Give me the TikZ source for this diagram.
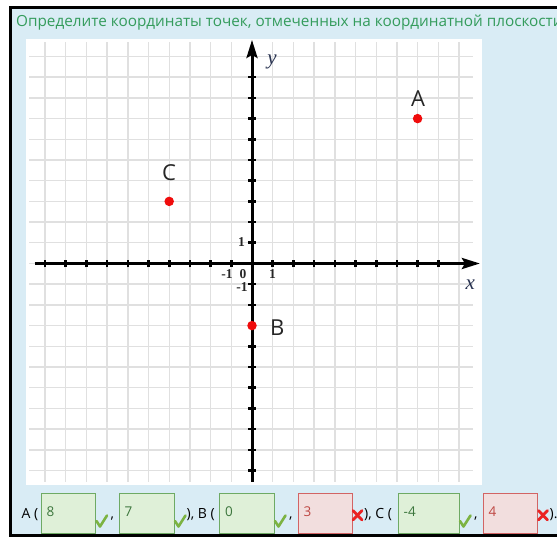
\documentclass[tikz,border=0pt]{standalone}
\usepackage{fontspec}
\setmainfont{Open Sans}
\newfontfamily\serifnum{Liberation Serif}
\usetikzlibrary{arrows.meta}
\definecolor{bgblue}{RGB}{217,236,245}
\definecolor{titlegreen}{RGB}{52,156,92}
\definecolor{gridgray}{RGB}{224,224,224}
\definecolor{ptred}{RGB}{240,12,12}
\definecolor{okfill}{RGB}{223,240,216}
\definecolor{okdraw}{RGB}{110,170,100}
\definecolor{oktext}{RGB}{60,118,61}
\definecolor{badfill}{RGB}{242,222,222}
\definecolor{baddraw}{RGB}{210,100,100}
\definecolor{badtext}{RGB}{190,70,66}
\definecolor{okmark}{RGB}{124,179,66}
\definecolor{badmark}{RGB}{235,35,35}
\definecolor{axlab}{RGB}{40,50,80}
\begin{document}
\begin{tikzpicture}[x=1pt,y=-1pt,
  gridline/.style={gridgray, line width=1.4pt},
  axisline/.style={line width=3pt, -{Stealth[length=18pt,width=11pt,inset=3pt]}},
  tickmark/.style={line width=2.6pt},
  ticklab/.style={font=\serifnum\bfseries\fontsize{13.5}{13.5}\selectfont, text=black!85, inner sep=0pt},
  axname/.style={font=\serifnum\itshape\fontsize{21}{21}\selectfont, text=axlab, inner sep=0pt},
  ptdot/.style={circle, fill=ptred, inner sep=0pt, minimum size=9.5pt},
  ptlab/.style={font=\fontsize{22}{22}\selectfont, text=black!85, inner sep=0pt},
  okbox/.style={draw=okdraw, fill=okfill, line width=1pt, minimum height=40pt, inner sep=0pt, anchor=north west},
  badbox/.style={draw=baddraw, fill=badfill, line width=1pt, minimum height=40pt, inner sep=0pt, anchor=north west},
  rowtext/.style={font=\fontsize{14}{14}\selectfont, text=black, inner sep=0pt, anchor=base west},
  oktxt/.style={font=\fontsize{13.5}{13.5}\selectfont, text=oktext, inner sep=0pt, anchor=west},
  badtxt/.style={font=\fontsize{13.5}{13.5}\selectfont, text=badtext, inner sep=0pt, anchor=west},
  checkmark/.style={okmark, line width=2.6pt, line cap=round, line join=round},
  crossmark/.style={badmark, line width=2.8pt, line cap=round}
]
\useasboundingbox (0,0) rectangle (557,537);
\clip (0,0) rectangle (557,537);
\fill[white] (0,0) rectangle (557,537);
% frame
\draw[line width=3pt, fill=bgblue] (10.5,7.5) rectangle (580,535.5);
% title
\node[font=\fontsize{15.3}{15.3}\selectfont, text=titlegreen, inner sep=0pt, anchor=base west] (title) at (16,27)
  {Определите координаты точек, отмеченных на координатной плоскости};
% white panel
\fill[white] (25.5,39) rectangle (482,485);
% coordinate system
\begin{scope}[shift={(252,263.5)}, x=20.7pt, y=20.7pt]
  \foreach \i in {-10,...,10} {
    \draw[gridline] (\i,-10.55) -- (\i,10.7);
    \draw[gridline] (-10.77,\i) -- (10.68,\i);
  }
  \coordinate (xstart) at (-10.5,0);
  \coordinate (xend) at (11.01,0);
  \coordinate (ystart) at (0,-10.55);
  \coordinate (yend) at (0,10.8);
  \draw[axisline] (xstart) -- (xend);
  \draw[axisline] (ystart) -- (yend);
  \foreach \i in {-10,...,-1,1,2,...,9} {
    \draw[tickmark] (\i,-0.19) -- (\i,0.19);
    \draw[tickmark] (-0.19,\i) -- (0.19,\i);
  }
  % points
  \node[ptdot] (A) at (8,7) {};
  \node[ptdot] (B) at (0,-3) {};
  \node[ptdot] (C) at (-4,3) {};
\end{scope}
% tick labels
\node[ticklab] (ly1) at (241.5,242.5) {1};
\node[ticklab] (lxm1) at (227,274) {-1};
\node[ticklab] (l0) at (243,274) {0};
\node[ticklab] (lx1) at (272.5,274) {1};
\node[ticklab] (lym1) at (242,287) {-1};
% axis names
\node[axname] (yname) at (272,62) {y};
\node[axname] (xname) at (470.3,284.3) {x};
% point labels
\node[ptlab] (labA) at (418,98.5) {A};
\node[ptlab] (labB) at (277.2,327.5) {B};
\node[ptlab] (labC) at (169,173) {C};
% answer row
\node[rowtext] (ta) at (21.5,518) {A (};
\node[okbox, minimum width=54pt] (b1) at (40.5,492.5) {};
\node[oktxt] (v1) at ([xshift=6pt,yshift=1.5pt]b1.west) {8};
\draw[checkmark] (96.5,521) -- (100,526.5) -- (107,515.5);
\node[rowtext] (c1) at (110.5,518) {,};
\node[okbox, minimum width=55pt] (b2) at (118.5,492.5) {};
\node[oktxt] (v2) at ([xshift=6pt,yshift=1.5pt]b2.west) {7};
\draw[checkmark] (175,521) -- (178.5,526.5) -- (185.5,515.5);
\node[rowtext] (tb) at (186.5,518) {), B (};
\node[okbox, minimum width=54.5pt] (b3) at (219,492.5) {};
\node[oktxt] (v3) at ([xshift=6pt,yshift=1.5pt]b3.west) {0};
\draw[checkmark] (275,521) -- (278.5,526.5) -- (285.5,515.5);
\node[rowtext] (c3) at (289,518) {,};
\node[badbox, minimum width=54pt] (b4) at (297.5,492.5) {};
\node[badtxt] (v4) at ([xshift=6pt,yshift=1.5pt]b4.west) {3};
\draw[crossmark] (353,510.5) -- (362,520);
\draw[crossmark] (362,510.5) -- (353,520);
\node[rowtext] (tc) at (364,518) {), C (};
\node[okbox, minimum width=61pt] (b5) at (397.5,492.5) {};
\node[oktxt] (v5) at ([xshift=6pt,yshift=1.5pt]b5.west) {-4};
\draw[checkmark] (460,521) -- (463.5,526.5) -- (470.5,515.5);
\node[rowtext] (c5) at (474,518) {,};
\node[badbox, minimum width=54.5pt] (b6) at (482.5,492.5) {};
\node[badtxt] (v6) at ([xshift=6pt,yshift=1.5pt]b6.west) {4};
\draw[crossmark] (538.5,510.5) -- (547.5,520);
\draw[crossmark] (547.5,510.5) -- (538.5,520);
\node[rowtext] (tend) at (549.5,518) {).};
\end{tikzpicture}
\end{document}
